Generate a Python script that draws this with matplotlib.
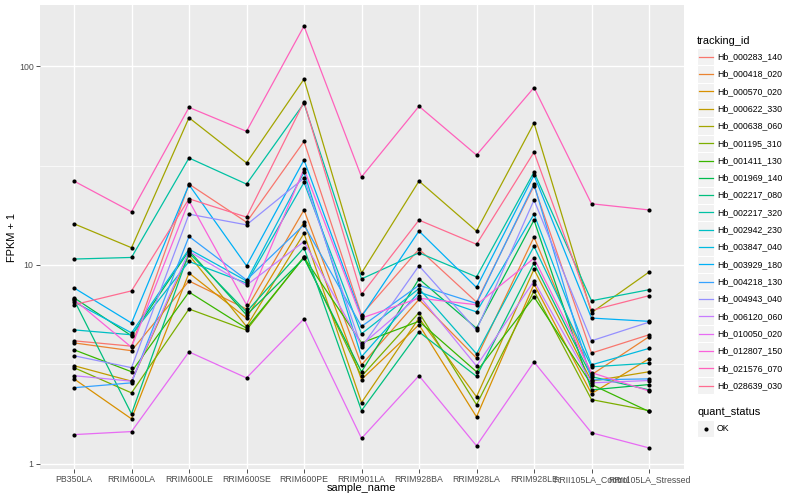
import matplotlib
matplotlib.use("Agg")
import matplotlib.pyplot as plt
import numpy as np
from matplotlib.patches import Rectangle
from matplotlib.ticker import NullFormatter, FixedLocator

plt.rcParams['font.family'] = ['Liberation Sans', 'DejaVu Sans']

samples = ["PB350LA", "RRIM600LA", "RRIM600LE", "RRIM600SE", "RRIM600PE",
           "RRIM901LA", "RRIM928BA", "RRIM928LA", "RRIM928LE",
           "RRII105LA_Control", "RRII105LA_Stressed"]

tracking_ids = ["Hb_000283_140", "Hb_000418_020", "Hb_000570_020", "Hb_000622_330",
                "Hb_000638_060", "Hb_001195_310", "Hb_001411_130", "Hb_001969_140",
                "Hb_002217_080", "Hb_002217_320", "Hb_002942_230", "Hb_003847_040",
                "Hb_003929_180", "Hb_004218_130", "Hb_004943_040", "Hb_006120_060",
                "Hb_010050_020", "Hb_012807_150", "Hb_021576_070", "Hb_028639_030"]

Hb_000283_140 = [4.15, 3.9, 25.5, 16.4, 41.8, 5.6, 12.0, 6.5, 25.0, 3.6, 4.45]
Hb_000418_020 = [4.05, 3.7, 8.3, 6.0, 18.9, 3.14, 6.7, 3.4, 13.8, 2.8, 4.35]
Hb_000570_020 = [2.67, 1.68, 9.1, 5.4, 16.4, 2.65, 5.0, 1.72, 8.0, 2.25, 3.37]
Hb_000622_330 = [3.11, 2.6, 11.2, 4.9, 14.4, 2.03, 5.4, 2.17, 9.5, 2.6, 2.9]
Hb_000638_060 = [16.1, 12.2, 55.0, 32.6, 86.0, 9.1, 26.4, 14.8, 51.7, 5.75, 9.2]
Hb_001195_310 = [3.04, 2.27, 6.0, 4.7, 11.0, 2.75, 5.75, 1.98, 7.4, 2.1, 1.85]
Hb_001411_130 = [3.74, 2.9, 7.3, 4.8, 10.9, 4.05, 5.2, 2.9, 6.9, 2.5, 1.83]
Hb_001969_140 = [6.83, 4.4, 11.8, 5.6, 10.8, 2.9, 8.5, 4.8, 16.8, 2.35, 2.5]
Hb_002217_080 = [6.67, 1.78, 11.5, 5.8, 12.2, 1.85, 4.6, 2.75, 10.2, 2.74, 2.35]
Hb_002217_320 = [10.7, 10.9, 34.5, 25.5, 65.0, 8.5, 11.5, 8.7, 29.3, 6.6, 7.5]
Hb_002942_230 = [4.71, 4.45, 10.4, 8.1, 26.0, 4.5, 7.6, 3.57, 12.4, 3.07, 3.2]
Hb_003847_040 = [6.52, 4.55, 12.0, 8.3, 29.3, 3.45, 7.3, 5.8, 18.0, 3.14, 3.8]
Hb_003929_180 = [7.66, 5.1, 25.3, 9.9, 33.7, 5.5, 14.8, 7.7, 28.3, 5.4, 5.2]
Hb_004218_130 = [2.41, 2.55, 13.9, 8.4, 15.9, 4.9, 7.9, 6.4, 25.5, 2.64, 2.67]
Hb_004943_040 = [3.49, 3.04, 18.0, 15.9, 27.3, 3.85, 9.9, 4.7, 21.2, 4.15, 5.15]
Hb_006120_060 = [2.77, 2.6, 11.7, 7.9, 13.1, 3.95, 7.0, 3.1, 8.3, 2.55, 2.62]
Hb_010050_020 = [1.40, 1.45, 3.65, 2.7, 5.35, 1.34, 2.77, 1.23, 3.25, 1.43, 1.2]
Hb_012807_150 = [6.7, 3.85, 21.0, 6.3, 30.4, 5.4, 6.8, 6.3, 10.8, 2.87, 2.32]
Hb_021576_070 = [26.4, 18.5, 62.0, 47.0, 159.0, 27.7, 62.8, 35.7, 78.0, 20.3, 18.9]
Hb_028639_030 = [6.3, 7.4, 21.5, 17.4, 66.0, 7.1, 16.8, 12.7, 36.9, 5.9, 7.0]

series = [Hb_000283_140, Hb_000418_020, Hb_000570_020, Hb_000622_330, Hb_000638_060,
          Hb_001195_310, Hb_001411_130, Hb_001969_140, Hb_002217_080, Hb_002217_320,
          Hb_002942_230, Hb_003847_040, Hb_003929_180, Hb_004218_130, Hb_004943_040,
          Hb_006120_060, Hb_010050_020, Hb_012807_150, Hb_021576_070, Hb_028639_030]

colors = ["#F8766D", "#EA8331", "#D89000", "#C09B00", "#A3A500", "#7CAE00", "#39B600",
          "#00BB4E", "#00BF7D", "#00C1A3", "#00BFC4", "#00BAE0", "#00B0F6", "#35A2FF",
          "#9590FF", "#C77CFF", "#E76BF3", "#FA62DB", "#FF62BC", "#FF6C91"]

W, H = 800, 500
fig = plt.figure(figsize=(8, 5), dpi=100)
px_l, px_r, px_t, px_b = 39.5, 683.5, 5, 469
ax = fig.add_axes([px_l / W, 1 - px_b / H, (px_r - px_l) / W, (px_b - px_t) / H])
ax.set_facecolor('#EBEBEB')
for sp in ax.spines.values():
    sp.set_visible(False)

x = np.arange(len(samples))
for vals, col in zip(series, colors):
    ax.plot(x, vals, color=col, lw=0.9, zorder=2, solid_capstyle='butt')
for vals in series:
    ax.scatter(x, vals, s=9, color='black', zorder=3, linewidths=0)

ax.set_yscale('log')
allv = np.log10(np.concatenate([np.array(s) for s in series]))
lo, hi = allv.min(), allv.max()
pad = 0.05 * (hi - lo)
ax.set_ylim(10 ** (lo - pad), 10 ** (hi + pad))
ax.set_xlim(-0.6, len(samples) - 0.4)

ax.yaxis.set_major_locator(FixedLocator([1, 10, 100]))
ax.set_yticklabels(['1', '10', '100'])
ax.yaxis.set_minor_locator(FixedLocator([10 ** 0.5, 10 ** 1.5]))
ax.yaxis.set_minor_formatter(NullFormatter())
ax.set_xticks(x)
ax.set_xticklabels(samples)
ax.tick_params(which='minor', length=0)
ax.tick_params(which='major', length=2.75, color='#333333', width=0.6,
               labelsize=6.3, labelcolor='#4D4D4D', pad=1.5)
ax.grid(which='major', color='white', lw=1.0)
ax.grid(which='minor', axis='y', color='white', lw=0.5)
ax.set_axisbelow(True)

fig.text(12 / W, 1 - 237 / H, "FPKM + 1", rotation=90, ha='center', va='center',
         fontsize=7.9, color='black')
fig.text((px_l + px_r) / 2 / W, 1 - 488 / H, "sample_name", ha='center', va='center',
         fontsize=7.9, color='black')

# legend
lax = fig.add_axes([0, 0, 1, 1])
lax.set_xlim(0, W)
lax.set_ylim(H, 0)
lax.axis('off')
lax.patch.set_alpha(0)

kx0, kw = 697, 17.3
lax.text(697, 40.5, "tracking_id", ha='left', va='center', fontsize=7.9)
step = 17.31
for i, (name, col) in enumerate(zip(tracking_ids, colors)):
    yc = 56.7 + step * i
    lax.add_patch(Rectangle((kx0, yc - step / 2), kw, step, facecolor='#F2F2F2',
                            edgecolor='white', lw=0.8))
    lax.plot([kx0 + 1.7, kx0 + kw - 1.7], [yc, yc], color=col, lw=0.9)
    lax.text(717, yc, name, ha='left', va='center', fontsize=6.3)

lax.text(697, 412, "quant_status", ha='left', va='center', fontsize=7.9)
yc = 428.5
lax.add_patch(Rectangle((kx0, yc - step / 2), kw, step, facecolor='#F2F2F2',
                        edgecolor='white', lw=0.8))
lax.scatter([kx0 + kw / 2], [yc], s=9, color='black', linewidths=0)
lax.text(717, yc, "OK", ha='left', va='center', fontsize=6.3)

fig.savefig("out.png", dpi=100)
